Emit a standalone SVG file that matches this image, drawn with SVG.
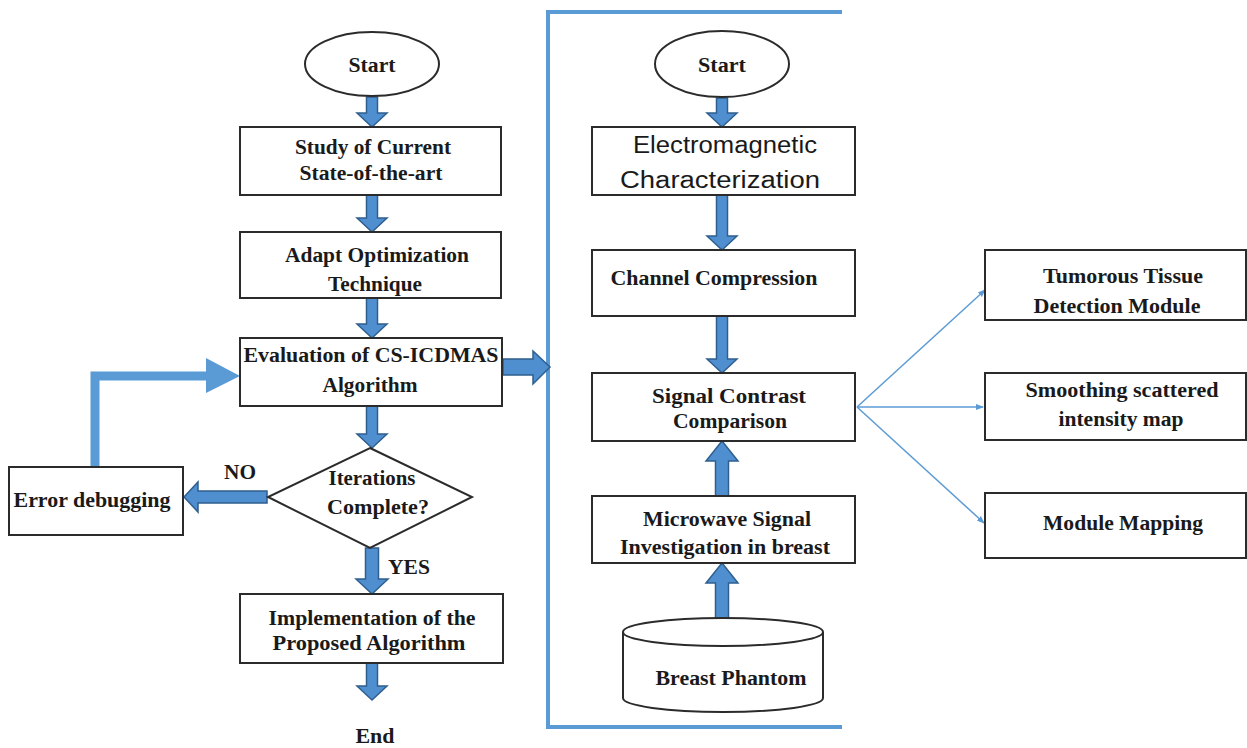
<svg xmlns="http://www.w3.org/2000/svg" width="1247" height="748" viewBox="0 0 1247 748">
<defs>
<style>
.box{fill:#fff;stroke:#2b2b2b;stroke-width:2}
.t{font-family:"Liberation Serif","Times New Roman",serif;font-weight:bold;font-size:20px;fill:#1a1a1a;text-anchor:middle}
.c{font-family:"Liberation Sans",Arial,sans-serif;font-size:23px;fill:#1a1a1a;text-anchor:middle}
.blk{fill:#4f8fd0;stroke:#2f5f8f;stroke-width:1.5;stroke-linejoin:miter}
.thin{stroke:#5b9bd5;stroke-width:1.5;fill:none}
</style>
<marker id="ah" markerWidth="8" markerHeight="8" refX="7" refY="4" orient="auto" markerUnits="userSpaceOnUse">
<path d="M0,1 L8,4 L0,7 Z" fill="#5b9bd5"/>
</marker>
</defs>
<rect width="1247" height="748" fill="#fff"/>

<g id="connectors">
<path d="M842,12 H548 V727 H842" fill="none" stroke="#5b9bd5" stroke-width="4"/>
<path d="M95,467 V376 H208" fill="none" stroke="#5b9bd5" stroke-width="9"/>
<polygon points="206,358 240,376 206,393" fill="#5b9bd5"/>
<path class="blk" d="M366.5,97 H377.5 V113 H387 L372,127 L357,113 H366.5 Z"/>
<path class="blk" d="M366.5,195 H377.5 V218 H387 L372,232 L357,218 H366.5 Z"/>
<path class="blk" d="M366.5,298 H377.5 V324 H387 L372,338 L357,324 H366.5 Z"/>
<path class="blk" d="M366.5,406 H377.5 V434 H387 L372,448 L357,434 H366.5 Z"/>
<path class="blk" d="M365.5,548 H378.5 V579 H388 L372,594 L356,579 H365.5 Z"/>
<path class="blk" d="M366.5,663 H377.5 V686 H387 L372,700 L357,686 H366.5 Z"/>
<path class="blk" d="M267,491 V503 H198 V512 L184,497 L198,482 V491 Z"/>
<path class="blk" d="M503,359 H533 V351 L550,367 L533,384 V375 H503 Z"/>
<path class="blk" d="M716.5,98 H727.5 V113 H737 L722,127 L707,113 H716.5 Z"/>
<path class="blk" d="M716.5,195 H727.5 V236 H737 L722,250 L707,236 H716.5 Z"/>
<path class="blk" d="M716.5,316 H727.5 V359 H737 L722,373 L707,359 H716.5 Z"/>
<path class="blk" d="M715.5,496 H728.5 V461 H738 L722,441 L706,461 H715.5 Z"/>
<path class="blk" d="M715.5,618 H728.5 V583 H738 L722,563 L706,583 H715.5 Z"/>
<line class="thin" x1="857" y1="407" x2="985" y2="290" marker-end="url(#ah)"/>
<line class="thin" x1="857" y1="407" x2="983" y2="407" marker-end="url(#ah)"/>
<line class="thin" x1="857" y1="407" x2="984" y2="523" marker-end="url(#ah)"/>
</g>

<g id="start1">
<ellipse class="box" cx="372" cy="64" rx="67" ry="32"/>
<text class="t" x="372" y="72" textLength="47" lengthAdjust="spacingAndGlyphs">Start</text>
</g>
<g id="study">
<rect class="box" x="240" y="127" width="261" height="68"/>
<text class="t" x="373" y="154" textLength="156" lengthAdjust="spacingAndGlyphs">Study of Current</text>
<text class="t" x="371" y="180" textLength="143" lengthAdjust="spacingAndGlyphs">State-of-the-art</text>
</g>
<g id="adapt">
<rect class="box" x="240" y="232" width="261" height="66"/>
<text class="t" x="377" y="262" textLength="184" lengthAdjust="spacingAndGlyphs">Adapt Optimization</text>
<text class="t" x="375" y="291" textLength="94" lengthAdjust="spacingAndGlyphs">Technique</text>
</g>
<g id="evaluation">
<rect class="box" x="240" y="338" width="262" height="68"/>
<text class="t" x="371" y="362" textLength="255" lengthAdjust="spacingAndGlyphs">Evaluation of CS-ICDMAS</text>
<text class="t" x="370" y="392" textLength="95" lengthAdjust="spacingAndGlyphs">Algorithm</text>
</g>
<g id="decision">
<polygon class="box" points="370,448 472,497 370,548 268,497"/>
<text class="t" x="372" y="485" textLength="87" lengthAdjust="spacingAndGlyphs">Iterations</text>
<text class="t" x="378" y="514" textLength="102" lengthAdjust="spacingAndGlyphs">Complete?</text>
</g>
<text class="t" x="240" y="479" textLength="32" lengthAdjust="spacingAndGlyphs">NO</text>
<text class="t" x="409" y="574" textLength="42" lengthAdjust="spacingAndGlyphs">YES</text>
<g id="error">
<rect class="box" x="9" y="467" width="174" height="68"/>
<text class="t" x="92" y="507" textLength="157" lengthAdjust="spacingAndGlyphs">Error debugging</text>
</g>
<g id="implementation">
<rect class="box" x="240" y="594" width="263" height="69"/>
<text class="t" x="372" y="625" textLength="207" lengthAdjust="spacingAndGlyphs">Implementation of the</text>
<text class="t" x="369" y="650" textLength="193" lengthAdjust="spacingAndGlyphs">Proposed  Algorithm</text>
</g>
<g id="end">
<text class="t" x="375" y="743" textLength="39" lengthAdjust="spacingAndGlyphs">End</text>
</g>

<g id="start2">
<ellipse class="box" cx="722" cy="64" rx="67" ry="33"/>
<text class="t" x="722" y="72" textLength="48" lengthAdjust="spacingAndGlyphs">Start</text>
</g>
<g id="em">
<rect class="box" x="592" y="127" width="263" height="68"/>
<text class="c" x="725" y="153" textLength="184" lengthAdjust="spacingAndGlyphs">Electromagnetic</text>
<text class="c" x="720" y="188" textLength="200" lengthAdjust="spacingAndGlyphs">Characterization</text>
</g>
<g id="channel">
<rect class="box" x="592" y="250" width="263" height="66"/>
<text class="t" x="714" y="285" textLength="207" lengthAdjust="spacingAndGlyphs">Channel Compression</text>
</g>
<g id="signal">
<rect class="box" x="592" y="373" width="263" height="68"/>
<text class="t" x="729" y="403" textLength="154" lengthAdjust="spacingAndGlyphs">Signal Contrast</text>
<text class="t" x="730" y="428" textLength="114" lengthAdjust="spacingAndGlyphs">Comparison</text>
</g>
<g id="microwave">
<rect class="box" x="592" y="496" width="263" height="67"/>
<text class="t" x="727" y="526" textLength="168" lengthAdjust="spacingAndGlyphs">Microwave Signal</text>
<text class="t" x="725" y="554" textLength="210" lengthAdjust="spacingAndGlyphs">Investigation in breast</text>
</g>
<g id="phantom">
<path class="box" d="M623,632 V698 A100,14 0 0 0 823,698 V632"/>
<ellipse class="box" cx="723" cy="632" rx="100" ry="14"/>
<text class="t" x="731" y="685" textLength="151" lengthAdjust="spacingAndGlyphs">Breast Phantom</text>
</g>
<g id="tumorous">
<rect class="box" x="985" y="250" width="261" height="70"/>
<text class="t" x="1123" y="283" textLength="160" lengthAdjust="spacingAndGlyphs">Tumorous Tissue</text>
<text class="t" x="1117" y="313" textLength="167" lengthAdjust="spacingAndGlyphs">Detection Module</text>
</g>
<g id="smoothing">
<rect class="box" x="985" y="373" width="261" height="67"/>
<text class="t" x="1122" y="397" textLength="193" lengthAdjust="spacingAndGlyphs">Smoothing scattered</text>
<text class="t" x="1121" y="426" textLength="125" lengthAdjust="spacingAndGlyphs">intensity map</text>
</g>
<g id="mapping">
<rect class="box" x="985" y="493" width="261" height="65"/>
<text class="t" x="1123" y="530" textLength="160" lengthAdjust="spacingAndGlyphs">Module Mapping</text>
</g>
</svg>
